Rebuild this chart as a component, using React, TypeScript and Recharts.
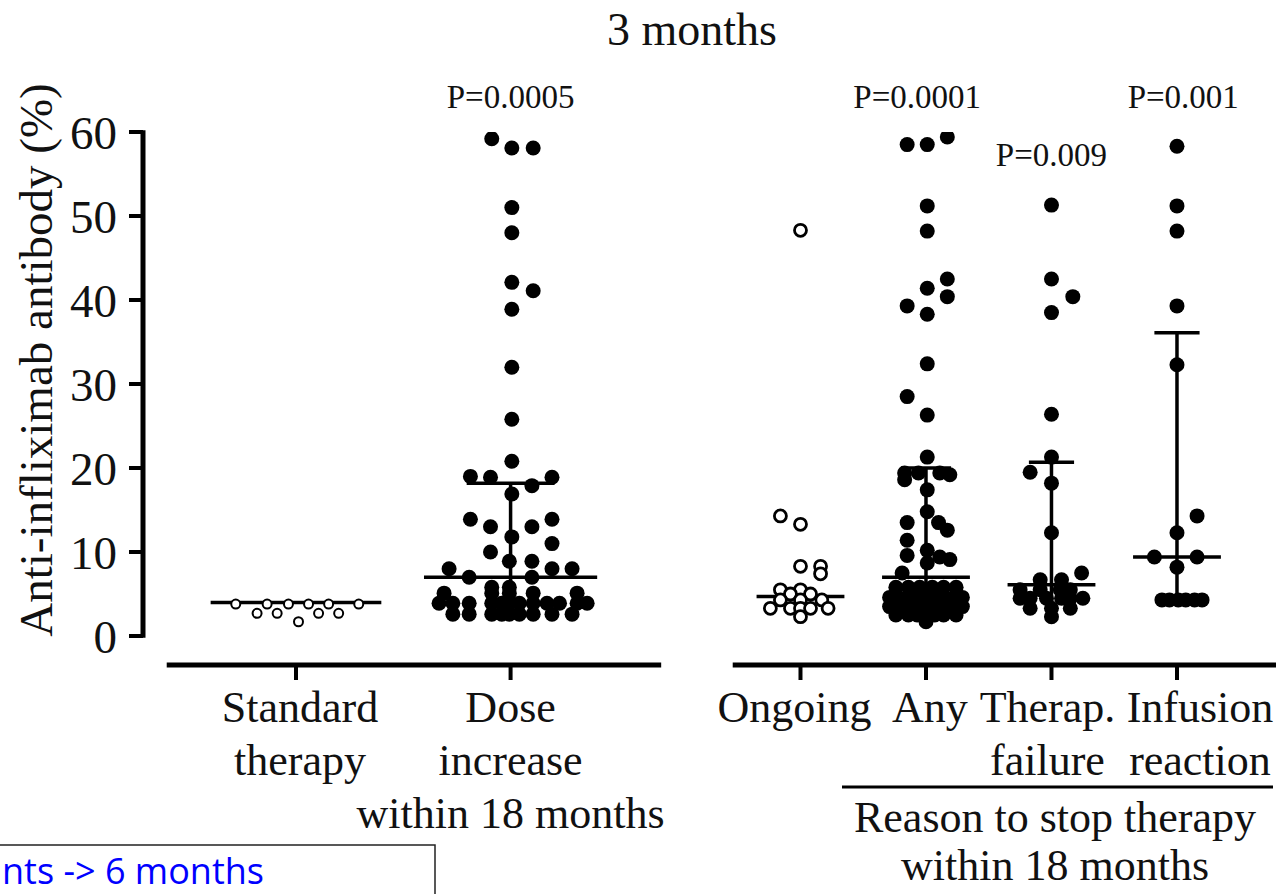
import React from "react";
import { ReferenceDot, ReferenceLine, Scatter, ScatterChart, XAxis, YAxis } from "recharts";

// each point is [antibody %, horizontal jitter within its column]
type Pt = [number, number];

const groupLabels = [
  ["Standard", "therapy"],
  ["Dose", "increase", "within 18 months"],
  ["Ongoing"],
  ["Any"],
  ["Therap.", "failure"],
  ["Infusion", "reaction"],
];
const groupSlots = [0, 1.71, 4.02, 5.02, 6.02, 7.02];
const openMarkers = [true, false, true, false, false, false];

const standardTherapy: Pt[] = [
  [3.8, -0.48], [3.8, -0.23], [3.8, -0.06], [3.8, 0.1], [3.8, 0.26], [3.8, 0.5],
  [2.7, -0.31], [2.7, -0.15], [2.7, 0.18], [2.7, 0.34], [1.7, 0.02],
];

const doseIncrease: Pt[] = [
  [59.2, -0.15], [58.1, 0.01], [58.1, 0.18], [51.0, 0.01], [48.0, 0.01], [42.1, 0.01],
  [41.1, 0.18], [38.9, 0.01], [32.0, 0.01], [25.8, 0.01], [20.8, 0.01], [19.0, -0.32],
  [18.9, -0.16], [18.9, 0.33], [17.9, 0.17], [16.9, 0.01], [13.9, -0.32], [13.9, 0.33],
  [13.0, -0.16], [13.0, 0.17], [11.8, 0.01], [11.0, 0.33], [10.0, -0.16], [8.9, -0.01],
  [8.9, 0.17], [8.0, -0.49], [8.0, 0.33], [8.0, 0.49], [7.0, -0.33], [7.0, 0.17],
  [5.8, -0.15], [5.8, -0.01],
  [5.1, -0.53], [5.1, -0.15], [5.1, -0.01], [5.1, 0.18], [5.1, 0.53],
  [3.9, -0.57], [3.9, -0.46], [3.9, -0.33], [3.9, -0.15], [3.9, -0.07], [3.9, -0.01],
  [3.9, 0.07], [3.9, 0.18], [3.9, 0.29], [3.9, 0.39], [3.9, 0.53], [3.9, 0.61],
  [2.6, -0.46], [2.6, -0.33], [2.6, -0.15], [2.6, -0.07], [2.6, -0.01], [2.6, 0.07],
  [2.6, 0.18], [2.6, 0.33], [2.6, 0.49],
];

const ongoing: Pt[] = [
  [48.3, 0], [14.3, -0.16], [13.3, 0], [8.3, 0], [8.3, 0.16], [7.4, 0.16],
  [5.5, -0.16], [5.5, 0], [5.0, -0.08], [5.0, 0.08], [4.3, -0.16], [4.3, 0], [4.3, 0.17],
  [3.3, -0.24], [3.3, -0.08], [3.3, 0], [3.3, 0.08], [3.3, 0.22], [2.3, 0],
];

const anyReason: Pt[] = [
  [59.4, 0.17], [58.5, -0.15], [58.5, 0.01], [51.2, 0.01], [48.2, 0.01], [42.5, 0.17],
  [41.4, 0.01], [40.4, 0.17], [39.3, -0.15], [38.3, 0.01], [32.4, 0.01], [28.5, -0.15],
  [26.3, 0.01], [21.3, 0.01], [19.4, -0.17], [19.4, -0.06], [19.4, 0.11], [19.2, 0.19],
  [18.6, -0.17], [17.4, 0.01], [14.8, 0.01], [13.5, -0.15], [13.5, 0.1], [12.6, 0.17],
  [11.4, -0.15], [10.2, 0.01], [9.6, -0.15], [9.4, 0.11], [9.1, 0.19], [8.7, 0.01],
  [7.5, -0.19],
  [5.8, -0.24], [5.8, -0.14], [5.8, -0.05], [5.8, 0.05], [5.8, 0.14], [5.8, 0.24],
  [4.6, -0.29], [4.6, -0.22], [4.6, -0.14], [4.6, -0.07], [4.6, 0], [4.6, 0.07],
  [4.6, 0.14], [4.6, 0.22], [4.6, 0.29],
  [3.5, -0.29], [3.5, -0.22], [3.5, -0.14], [3.5, -0.07], [3.5, 0], [3.5, 0.07],
  [3.5, 0.14], [3.5, 0.22], [3.5, 0.29],
  [2.5, -0.24], [2.5, -0.14], [2.5, -0.07], [2.5, 0], [2.5, 0.07], [2.5, 0.14], [2.5, 0.24],
  [1.7, 0],
];

const therapFailure: Pt[] = [
  [51.3, 0], [42.5, 0], [40.4, 0.17], [38.5, 0], [26.4, 0], [21.3, 0], [19.5, -0.17],
  [18.2, 0], [12.3, 0], [7.5, 0.24], [6.7, -0.09], [6.7, 0.08],
  [5.5, -0.25], [5.5, -0.09], [5.5, 0.07], [5.5, 0.15],
  [4.5, -0.25], [4.5, -0.17], [4.5, -0.04], [4.5, 0.08], [4.5, 0.15], [4.5, 0.25],
  [3.3, -0.17], [3.3, 0], [3.3, 0.15], [2.3, 0],
];

const infusionReaction: Pt[] = [
  [58.3, 0], [51.2, 0], [48.2, 0], [39.3, 0], [32.3, 0], [14.3, 0.16], [12.3, 0],
  [9.4, -0.18], [9.4, 0.16], [8.2, 0],
  [4.3, -0.12], [4.3, -0.06], [4.3, 0.01], [4.3, 0.07], [4.3, 0.14], [4.3, 0.2],
];

const groupPoints = [standardTherapy, doseIncrease, ongoing, anyReason, therapFailure, infusionReaction];

const medians = [4.0, 7.0, 4.7, 7.0, 6.1, 9.4];
const upperQuartiles = [4.0, 18.2, 4.7, 20.0, 20.7, 36.1];
const lowerQuartiles = [4.0, 3.5, 4.7, 3.5, 4.0, 4.3];
const pValues = ["", "P=0.0005", "", "P=0.0001", "P=0.009", "P=0.001"];
const yTicks = [0, 10, 20, 30, 40, 50, 60];

// layout
const FONT = "'Liberation Serif', 'Times New Roman', serif";
const X_DOMAIN: [number, number] = [-1.219, 7.809];
const Y_DOMAIN: [number, number] = [-3.45, 60];
const medianHalf = [0.68, 0.69, 0.35, 0.35, 0.35, 0.35];
const capHalf = [0, 0.35, 0, 0.2, 0.18, 0.18];
const pLabelY = [0, 64.3, 0, 64.3, 57.4, 64.3];
const pLabelDx = [0, 0, 0, -0.07, 0, 0.05];
const labelDx = [4, 0, -6, 4, -4, 23];

const filledDot = (p: any) => <circle cx={p.cx} cy={p.cy} r={7.5} fill="#000" />;
const openDot = (r: number, sw: number) => (p: any) => (
  <circle cx={p.cx} cy={p.cy} r={r} fill="#fff" stroke="#000" strokeWidth={sw} />
);

function GroupTick(props: any) {
  const { x, y, payload } = props;
  const i = groupSlots.indexOf(payload.value);
  if (i < 0) return null;
  const cx = x + labelDx[i];
  return (
    <text x={cx} y={y} textAnchor="middle" fontFamily={FONT} fontSize={44} fill="#111">
      {groupLabels[i].map((line, k) => (
        <tspan key={k} x={cx} dy={k === 0 ? 42 : 53}>
          {line}
        </tspan>
      ))}
    </text>
  );
}

function YTitle() {
  return (
    <text x={52} y={360} transform="rotate(-90 52 360)" textAnchor="middle" fontFamily={FONT} fontSize={47} fill="#111">
      Anti-infliximab antibody (%)
    </text>
  );
}

export default function App() {
  const line = { stroke: "#000", ifOverflow: "visible" as const };

  return (
    <div style={{ position: "absolute", left: 0, top: 0, width: 1276, height: 894, background: "#fff", overflow: "hidden" }}>
      <ScatterChart width={1276} height={894} margin={{ top: 132, right: 0, bottom: 0, left: 0 }}>
        <XAxis
          type="number"
          dataKey="x"
          domain={X_DOMAIN}
          allowDataOverflow
          ticks={groupSlots}
          interval={0}
          height={229}
          axisLine={false}
          tickLine={{ stroke: "#000", strokeWidth: 4 }}
          tickSize={15}
          tickMargin={0}
          tick={<GroupTick />}
        />
        <YAxis
          type="number"
          dataKey="y"
          domain={Y_DOMAIN}
          allowDataOverflow
          ticks={yTicks}
          interval={0}
          width={143}
          axisLine={false}
          tickLine={{ stroke: "#000", strokeWidth: 4 }}
          tickSize={14}
          tickMargin={12}
          tick={{ fill: "#111", fontSize: 47, fontFamily: FONT }}
          label={<YTitle />}
        />

        {/* axis lines: y from 0 to 60, x split into two pieces */}
        <ReferenceLine {...line} strokeWidth={5} segment={[{ x: X_DOMAIN[0], y: -0.2 }, { x: X_DOMAIN[0], y: 60.2 }]} />
        <ReferenceLine {...line} strokeWidth={5} segment={[{ x: -1.03, y: Y_DOMAIN[0] }, { x: 2.91, y: Y_DOMAIN[0] }]} />
        <ReferenceLine {...line} strokeWidth={5} segment={[{ x: 3.48, y: Y_DOMAIN[0] }, { x: X_DOMAIN[1], y: Y_DOMAIN[0] }]} />

        {groupSlots.map((s, i) => (
          <ReferenceLine key={`iqr-${i}`} {...line} strokeWidth={3.5} segment={[{ x: s, y: lowerQuartiles[i] }, { x: s, y: upperQuartiles[i] }]} />
        ))}
        {groupSlots.map((s, i) =>
          capHalf[i] > 0 ? (
            <ReferenceLine key={`cap-${i}`} {...line} strokeWidth={3.5} segment={[{ x: s - capHalf[i], y: upperQuartiles[i] }, { x: s + capHalf[i], y: upperQuartiles[i] }]} />
          ) : null
        )}
        {groupSlots.map((s, i) => (
          <ReferenceLine key={`med-${i}`} {...line} strokeWidth={3.5} segment={[{ x: s - medianHalf[i], y: medians[i] }, { x: s + medianHalf[i], y: medians[i] }]} />
        ))}

        {groupPoints.map((pts, i) => (
          <Scatter
            key={`grp-${i}`}
            name={groupLabels[i].join(" ")}
            data={pts.map(([v, dx]) => ({ x: groupSlots[i] + dx, y: v }))}
            shape={openMarkers[i] ? (i === 0 ? openDot(4.5, 2) : openDot(6, 2.8)) : filledDot}
            isAnimationActive={false}
          />
        ))}

        {pValues.map((p, i) =>
          p ? (
            <ReferenceDot
              key={`p-${i}`}
              x={groupSlots[i] + pLabelDx[i]}
              y={pLabelY[i]}
              r={0}
              fill="none"
              stroke="none"
              ifOverflow="visible"
              label={{ value: p, position: "center", fontSize: 33, fontFamily: FONT, fill: "#111" }}
            />
          ) : null
        )}
      </ScatterChart>

      <svg width={1276} height={894} style={{ position: "absolute", left: 0, top: 0, pointerEvents: "none" }}>
        <text x={692} y={45} textAnchor="middle" fontFamily={FONT} fontSize={46} fill="#111">
          3 months
        </text>
        <line x1={842} y1={787} x2={1273} y2={787} stroke="#000" strokeWidth={3} />
        <text x={1055} y={832} textAnchor="middle" fontFamily={FONT} fontSize={44} fill="#111">
          Reason to stop therapy
        </text>
        <text x={1055} y={880} textAnchor="middle" fontFamily={FONT} fontSize={44} fill="#111">
          within 18 months
        </text>
        <polyline points="-2,845 435,845 435,900" fill="none" stroke="#222" strokeWidth={1.5} />
        <text x={2} y={884} fontFamily="'Open Sans', 'Noto Sans', sans-serif" fontSize={36} fill="#0000ff">
          nts -&gt; 6 months
        </text>
      </svg>
    </div>
  );
}
